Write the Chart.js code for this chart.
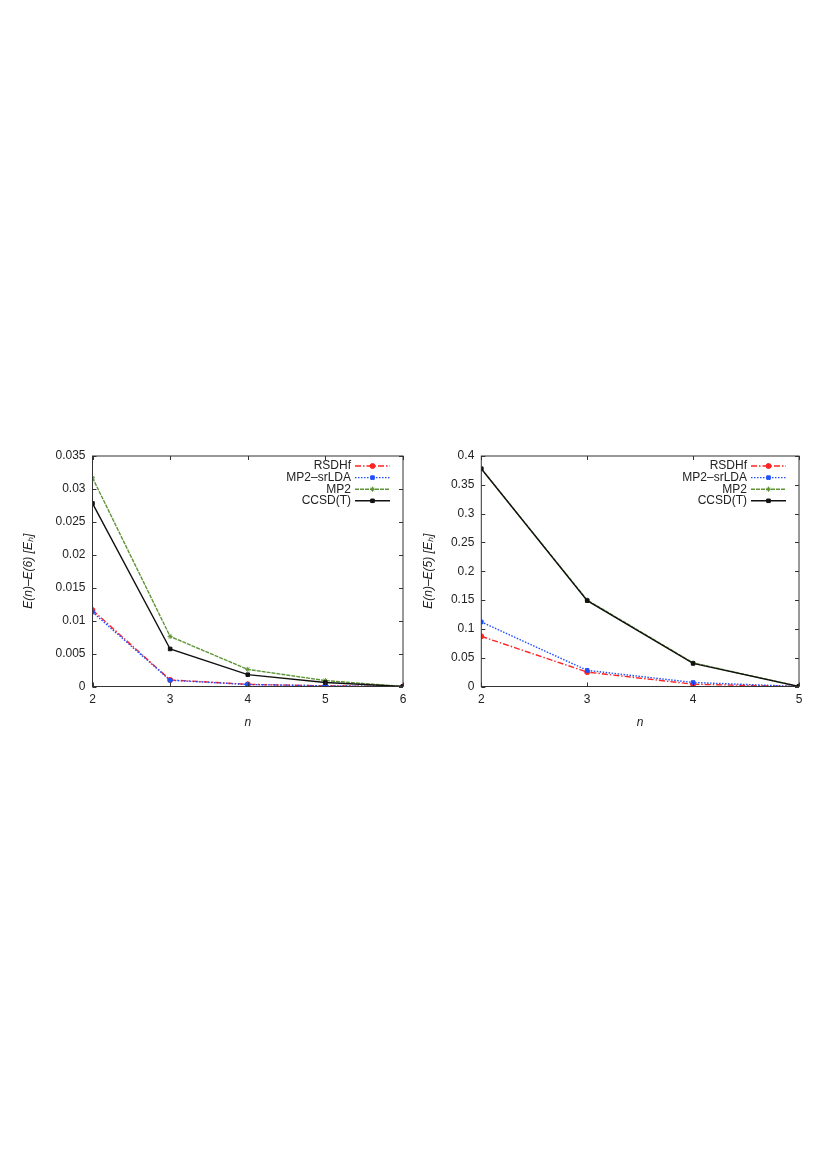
<!DOCTYPE html>
<html>
<head>
<meta charset="utf-8">
<script src="https://cdn.jsdelivr.net/npm/chart.js@4.4.1/dist/chart.umd.min.js"></script>
<style>
  body { margin: 0; background: #fff; width: 827px; height: 1170px; position: relative; overflow: hidden; }
  .panel { position: absolute; top: 440px; width: 390px; height: 290px; }
</style>
</head>
<body>
<div class="panel" style="left:20px"><canvas id="leftChart" width="390" height="290"></canvas></div>
<div class="panel" style="left:420px"><canvas id="rightChart" width="390" height="290"></canvas></div>
<script>
// Series names (same for both panels)
const seriesNames = ['RSDHf', 'MP2\u2013srLDA', 'MP2', 'CCSD(T)'];

// Left panel: E(n) - E(6)
const nLeft = [2, 3, 4, 5, 6];
const rsdhfLeft = [0.0116, 0.0010, 0.00033, 0.0001, 0];
const srldaLeft = [0.0113, 0.00095, 0.0003, 0.0001, 0];
const mp2Left = [0.0317, 0.0076, 0.0026, 0.0009, 0];
const ccsdLeft = [0.0278, 0.0057, 0.0018, 0.0006, 0];
const yTicksLeft = [0, 0.005, 0.01, 0.015, 0.02, 0.025, 0.03, 0.035];
const yLabelsLeft = ['0', '0.005', '0.01', '0.015', '0.02', '0.025', '0.03', '0.035'];

// Right panel: E(n) - E(5)
const nRight = [2, 3, 4, 5];
const rsdhfRight = [0.087, 0.025, 0.004, 0];
const srldaRight = [0.112, 0.028, 0.007, 0];
const mp2Right = [0.378, 0.150, 0.041, 0];
const ccsdRight = [0.378, 0.149, 0.040, 0];
const yTicksRight = [0, 0.05, 0.1, 0.15, 0.2, 0.25, 0.3, 0.35, 0.4];
const yLabelsRight = ['0', '0.05', '0.1', '0.15', '0.2', '0.25', '0.3', '0.35', '0.4'];

const FONT = "'Liberation Sans', Arial, sans-serif";
const TEXT_COLOR = '#222';
const FRAME_COLOR = '#333';

// Line styles, gnuplot-like
const styles = [
  { color: '#ff2424', dash: [6, 2, 1.5, 2], pointStyle: 'circle', radius: 2.5, order: 3 },
  { color: '#1f4fff', dash: [1.5, 1.5], pointStyle: 'rect', radius: 2.5, order: 2 },
  { color: '#5f9436', dash: [4, 1], pointStyle: 'star', radius: 2.5, order: 1 },
  { color: '#111111', dash: [], pointStyle: 'rect', radius: 2.5, order: 0 }
];

function makeDatasets(xs, seriesList) {
  return seriesList.map((vals, i) => {
    const s = styles[i];
    return {
      label: seriesNames[i],
      data: xs.map((x, j) => ({ x: x, y: vals[j] })),
      borderColor: s.color,
      backgroundColor: s.color,
      borderWidth: 1.4,
      borderDash: s.dash,
      pointStyle: s.pointStyle,
      pointRadius: s.radius,
      pointBorderWidth: 1,
      order: s.order,
      tension: 0
    };
  });
}

// Draws the closed frame, inward ticks on all four sides and the gnuplot-style key
const gnuplotFrame = {
  id: 'gnuplotFrame',
  afterDraw(chart) {
    const { ctx, chartArea: a, scales } = chart;
    ctx.save();
    ctx.strokeStyle = FRAME_COLOR;
    ctx.lineWidth = 1;
    ctx.setLineDash([]);
    ctx.strokeRect(a.left, a.top, a.right - a.left, a.bottom - a.top);

    const tl = 4;
    ctx.beginPath();
    scales.y.ticks.forEach(t => {
      const y = Math.round(scales.y.getPixelForValue(t.value)) + 0.5;
      ctx.moveTo(a.left, y); ctx.lineTo(a.left + tl, y);
      ctx.moveTo(a.right, y); ctx.lineTo(a.right - tl, y);
    });
    scales.x.ticks.forEach(t => {
      const x = Math.round(scales.x.getPixelForValue(t.value)) + 0.5;
      ctx.moveTo(x, a.bottom); ctx.lineTo(x, a.bottom - tl);
      ctx.moveTo(x, a.top); ctx.lineTo(x, a.top + tl);
    });
    ctx.stroke();

    // key
    const lineEnd = a.right - 13;
    const lineStart = lineEnd - 35;
    ctx.font = '12px ' + FONT;
    ctx.textAlign = 'right';
    ctx.textBaseline = 'middle';
    chart.data.datasets.forEach((ds, i) => {
      const y = a.top + 10 + i * 11.6;
      ctx.fillStyle = TEXT_COLOR;
      ctx.fillText(ds.label, lineStart - 4, y);
      ctx.strokeStyle = ds.borderColor;
      ctx.fillStyle = ds.backgroundColor;
      ctx.lineWidth = ds.borderWidth;
      ctx.setLineDash(ds.borderDash);
      ctx.beginPath();
      ctx.moveTo(lineStart, y); ctx.lineTo(lineEnd, y);
      ctx.stroke();
      ctx.setLineDash([]);
      ctx.lineWidth = 1;
      Chart.helpers.drawPoint(ctx, {
        pointStyle: ds.pointStyle, radius: ds.pointRadius, borderWidth: 1, rotation: 0
      }, (lineStart + lineEnd) / 2, y);
    });
    ctx.restore();
  }
};

function makeChart(id, xs, seriesList, yTicks, yLabels, yTitle, yWidth, padRight) {
  const ctx = document.getElementById(id).getContext('2d');
  return new Chart(ctx, {
    type: 'line',
    data: { datasets: makeDatasets(xs, seriesList) },
    plugins: [gnuplotFrame],
    options: {
      responsive: false,
      animation: false,
      devicePixelRatio: 1,
      layout: { padding: { top: 16, right: padRight, left: 0, bottom: 0 } },
      plugins: { legend: { display: false }, tooltip: { enabled: false } },
      scales: {
        x: {
          type: 'linear',
          min: xs[0],
          max: xs[xs.length - 1],
          afterBuildTicks: scale => { scale.ticks = xs.map(v => ({ value: v })); },
          afterFit: scale => { scale.height = 43.5; scale.paddingLeft = 0; scale.paddingRight = 0; },
          grid: { display: false, drawTicks: false },
          border: { display: false },
          ticks: { color: TEXT_COLOR, font: { family: FONT, size: 12 }, padding: 6, autoSkip: false, maxRotation: 0 },
          title: { display: true, text: 'n', color: TEXT_COLOR, font: { family: FONT, size: 12, style: 'italic' }, padding: { top: 4, bottom: 0 } }
        },
        y: {
          min: yTicks[0],
          max: yTicks[yTicks.length - 1],
          afterBuildTicks: scale => { scale.ticks = yTicks.map(v => ({ value: v })); },
          afterFit: scale => { scale.width = yWidth; },
          grid: { display: false, drawTicks: false },
          border: { display: false },
          ticks: { color: TEXT_COLOR, font: { family: FONT, size: 12 }, padding: 7, autoSkip: false,
                   callback: (v, i) => yLabels[i] },
          title: { display: true, text: yTitle, color: TEXT_COLOR, font: { family: FONT, size: 12, style: 'italic' }, padding: { top: 1, bottom: 0 } }
        }
      }
    }
  });
}

makeChart('leftChart', nLeft, [rsdhfLeft, srldaLeft, mp2Left, ccsdLeft],
  yTicksLeft, yLabelsLeft, 'E(n)\u2013E(6) [E\u2095]', 72.5, 7);
makeChart('rightChart', nRight, [rsdhfRight, srldaRight, mp2Right, ccsdRight],
  yTicksRight, yLabelsRight, 'E(n)\u2013E(5) [E\u2095]', 61.3, 11);
</script>
</body>
</html>
